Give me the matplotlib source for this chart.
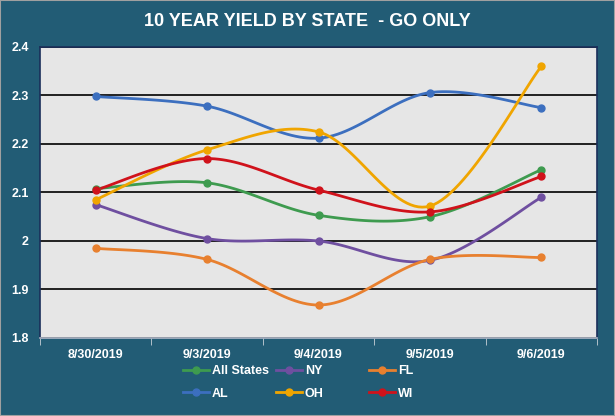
import numpy as np
import matplotlib.pyplot as plt
from matplotlib.lines import Line2D

dates = ["8/30/2019", "9/3/2019", "9/4/2019", "9/5/2019", "9/6/2019"]
all_states = [2.108, 2.120, 2.053, 2.050, 2.147]
ny = [2.075, 2.005, 2.000, 1.960, 2.090]
fl = [1.985, 1.962, 1.868, 1.962, 1.966]
al = [2.298, 2.278, 2.212, 2.306, 2.275]
oh = [2.085, 2.188, 2.225, 2.072, 2.360]
wi = [2.105, 2.170, 2.105, 2.060, 2.133]

series = [
    ("All States", all_states, "#3E9B4F"),
    ("NY", ny, "#6F4FA0"),
    ("FL", fl, "#E8802F"),
    ("AL", al, "#3C6FBF"),
    ("OH", oh, "#F0A500"),
    ("WI", wi, "#D0121B"),
]

BG = "#225C75"


def smooth(x, y, n=30):
    # Excel-style smoothed line (Catmull-Rom bezier segments)
    x = np.asarray(x, float)
    y = np.asarray(y, float)
    px = np.concatenate([[x[0]], x, [x[-1]]])
    py = np.concatenate([[y[0]], y, [y[-1]]])
    xs, ys = [], []
    t = np.linspace(0, 1, n)
    for i in range(1, len(px) - 2):
        p0 = np.array([px[i], py[i]])
        p3 = np.array([px[i + 1], py[i + 1]])
        p1 = p0 + (np.array([px[i + 1], py[i + 1]]) - np.array([px[i - 1], py[i - 1]])) / 6
        p2 = p3 - (np.array([px[i + 2], py[i + 2]]) - np.array([px[i], py[i]])) / 6
        b = ((1 - t) ** 3)[:, None] * p0 + (3 * (1 - t) ** 2 * t)[:, None] * p1 \
            + (3 * (1 - t) * t ** 2)[:, None] * p2 + (t ** 3)[:, None] * p3
        xs.append(b[:, 0])
        ys.append(b[:, 1])
    return np.concatenate(xs), np.concatenate(ys)


plt.rcParams['font.family'] = ['Liberation Sans', 'DejaVu Sans']

fig = plt.figure(figsize=(6.15, 4.16), dpi=100, facecolor=BG)
ax = fig.add_axes([40 / 615, 1 - 338 / 416, 557 / 615, 291 / 416])
ax.set_facecolor("#E6E6E6")

xpos = np.arange(len(dates))
handles = []
for name, vals, col in series:
    sx, sy = smooth(xpos, vals)
    ax.plot(sx, sy, color=col, lw=2.0, zorder=3)
    ax.plot(xpos, vals, 'o', color=col, ms=5, zorder=4)
    handles.append(Line2D([], [], color=col, lw=2.0, marker='o', ms=5, label=name))

ax.set_xlim(-0.5, len(dates) - 0.5)
ax.set_ylim(1.8, 2.4)
ax.set_yticks([1.8, 1.9, 2.0, 2.1, 2.2, 2.3, 2.4])
ax.set_yticklabels(["1.8", "1.9", "2", "2.1", "2.2", "2.3", "2.4"])
ax.yaxis.grid(True, color="black", lw=1.2)
ax.set_axisbelow(True)

ax.set_xticks(xpos)
ax.set_xticklabels(dates)
ax.set_xticks(np.arange(len(dates) + 1) - 0.5, minor=True)
ax.tick_params(axis='x', which='major', length=0, pad=8, colors='white', labelsize=9)
ax.tick_params(axis='x', which='minor', length=5, color='#C8D0D8')
ax.tick_params(axis='y', length=0, pad=8, colors='white', labelsize=9)
for lab in ax.get_xticklabels() + ax.get_yticklabels():
    lab.set_fontweight('bold')

for s in ax.spines.values():
    s.set_color("#1A2F5A")
    s.set_linewidth(1.2)
ax.spines['bottom'].set_color("#B0B8C8")

fig.text(0.5, 1 - 22 / 416, "10 YEAR YIELD BY STATE  - GO ONLY", ha='center', va='center',
         color='white', fontsize=13, fontweight='bold')

# legend: three columns laid out like the Excel legend, row-wise order
col_x = [183, 276, 369]
for c in range(3):
    leg = fig.legend(handles=[handles[c], handles[c + 3]], loc='upper left',
                     bbox_to_anchor=(col_x[c] / 615, 1 - 365 / 416), frameon=False,
                     fontsize=9, labelcolor='white', handlelength=2.1, handletextpad=0.2,
                     labelspacing=0.85, borderpad=0, borderaxespad=0)
    for t in leg.get_texts():
        t.set_fontweight('bold')

fig.patches.append(plt.Rectangle((0, 0), 1, 1, transform=fig.transFigure, fill=False,
                                 edgecolor="#A0A0A0", lw=1.5))

fig.savefig("out.png", dpi=100, facecolor=BG)
